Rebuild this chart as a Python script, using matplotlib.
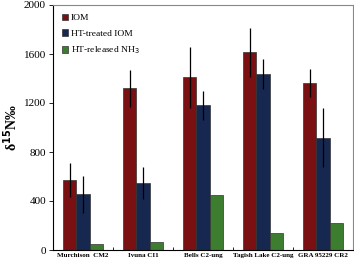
import matplotlib
matplotlib.use("Agg")
import matplotlib.pyplot as plt
import numpy as np

categories = ["Murchison  CM2", "Ivuna CI1", "Bells C2-ung", "Tagish Lake C2-ung", "GRA 95229 CR2"]
series_names = ["IOM", "HT-treated IOM", "HT-released NH$_3$"]
iom = [570, 1320, 1410, 1615, 1365]
iom_err = [140, 150, 250, 200, 115]
ht_iom = [455, 545, 1180, 1437, 917]
ht_iom_err = [150, 130, 120, 125, 240]
nh3 = [50, 62, 450, 138, 220]
yticks = [0, 400, 800, 1200, 1600, 2000]

colors = ["#7a1012", "#172850", "#3c7d2f"]

plt.rcParams['font.family'] = ['Liberation Serif', 'DejaVu Serif']
fig = plt.figure(figsize=(3.54, 2.60), dpi=100)
ax = fig.add_axes([53/354, 10/260, 300/354, 245/260])

x = np.arange(len(categories))
w = 0.222
ekw = dict(ecolor="black", elinewidth=0.9, capsize=0)
ax.bar(x - w, iom, w, yerr=iom_err, color=colors[0], edgecolor="#333333", linewidth=0.5, error_kw=ekw, label=series_names[0])
ax.bar(x, ht_iom, w, yerr=ht_iom_err, color=colors[1], edgecolor="#333333", linewidth=0.5, error_kw=ekw, label=series_names[1])
ax.bar(x + w, nh3, w, color=colors[2], edgecolor="#333333", linewidth=0.5, label=series_names[2])

ax.set_xlim(-0.5, 4.5)
ax.set_ylim(0, 2000)
ax.set_yticks(yticks)
ax.set_yticklabels([str(v) for v in yticks], fontsize=8)
ax.set_xticks(x)
ax.set_xticklabels(categories, fontsize=5, fontweight="bold")
ax.tick_params(axis="x", length=0, pad=2)
ax.set_xticks(np.arange(0.5, 4.5, 1.0), minor=True)
ax.tick_params(axis="x", which="minor", direction="in", length=2, width=0.6)
ax.tick_params(axis="y", direction="out", length=3, width=0.6, pad=2)

for s in ["left", "bottom"]:
    ax.spines[s].set_color("black")
    ax.spines[s].set_linewidth(0.8)
for s in ["top", "right"]:
    ax.spines[s].set_color("#888888")
    ax.spines[s].set_linewidth(0.8)

ax.set_ylabel("δ$^{\\mathbf{15}}$N‰", fontsize=10, fontweight="bold")
ax.yaxis.set_label_coords(-0.11, 0.5)

leg = ax.legend(loc="upper left", frameon=False, fontsize=6.8, handlelength=0.7, handleheight=0.7,
                handletextpad=0.3, labelspacing=0.75, borderaxespad=0.5)

fig.savefig("out.png", dpi=100)
